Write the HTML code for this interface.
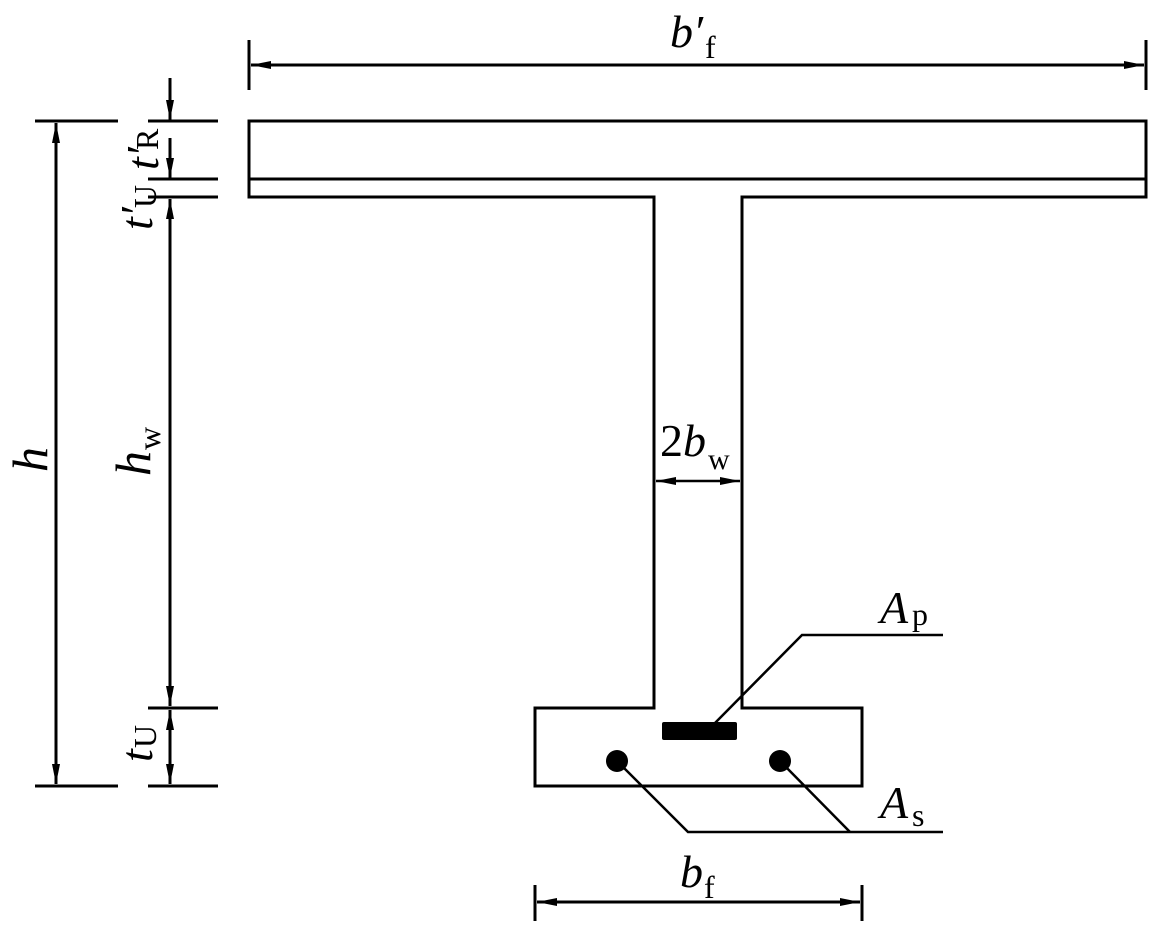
<!DOCTYPE html>
<html><head><style>body{margin:0;background:#fff}svg{display:block}text{font-family:"Liberation Serif","Times New Roman",serif;fill:#000}</style></head>
<body>
<svg width="1154" height="932" viewBox="0 0 1154 932" xmlns="http://www.w3.org/2000/svg">
<defs>
<marker id="a" viewBox="0 0 20 8" refX="20" refY="4" markerWidth="20" markerHeight="8" markerUnits="userSpaceOnUse" orient="auto-start-reverse"><path d="M0,0 L20,4 L0,8 Z" fill="#000"/></marker>
</defs>
<g stroke="#000" stroke-width="3" fill="none">
<path d="M249,121 H1146 V197 H742 V708 H862 V786 H535 V708 H654 V197 H249 Z"/>
<line x1="249" y1="179" x2="1146" y2="179"/>
<line x1="249" y1="40" x2="249" y2="90"/>
<line x1="1146" y1="40" x2="1146" y2="90"/>
<line x1="251" y1="65" x2="1144" y2="65" marker-start="url(#a)" marker-end="url(#a)"/>
<line x1="35" y1="121" x2="118" y2="121"/>
<line x1="35" y1="786" x2="118" y2="786"/>
<line x1="56" y1="123" x2="56" y2="784" marker-start="url(#a)" marker-end="url(#a)"/>
<line x1="148" y1="121" x2="218" y2="121"/>
<line x1="148" y1="179" x2="218" y2="179"/>
<line x1="148" y1="197" x2="218" y2="197"/>
<line x1="148" y1="708" x2="218" y2="708"/>
<line x1="148" y1="786" x2="218" y2="786"/>
<line x1="170" y1="78" x2="170" y2="120" marker-end="url(#a)"/>
<line x1="170" y1="138" x2="170" y2="178" marker-end="url(#a)"/>
<line x1="170" y1="199" x2="170" y2="706" marker-start="url(#a)" marker-end="url(#a)"/>
<line x1="170" y1="710" x2="170" y2="784" marker-start="url(#a)" marker-end="url(#a)"/>
<line x1="656" y1="481" x2="740" y2="481" marker-start="url(#a)" marker-end="url(#a)" stroke-width="2.5"/>
<line x1="535" y1="885" x2="535" y2="921"/>
<line x1="862" y1="885" x2="862" y2="921"/>
<line x1="537" y1="902" x2="860" y2="902" marker-start="url(#a)" marker-end="url(#a)"/>
<polyline points="715,723 802,635 943,635" stroke-width="2.5"/>
<polyline points="617,761 688,832 943,832" stroke-width="2.5"/>
<line x1="780" y1="761" x2="850" y2="832" stroke-width="2.5"/>
</g>
<rect x="662" y="722" width="75" height="18" rx="2" fill="#000"/>
<circle cx="617" cy="761" r="11" fill="#000"/>
<circle cx="780" cy="761" r="11" fill="#000"/>
<text x="670" y="47" font-size="46" font-style="italic">b′</text><text x="705" y="58" font-size="32">f</text>
<text x="660" y="456" font-size="46">2<tspan font-style="italic">b</tspan></text><text x="708" y="469" font-size="30">w</text>
<text x="880" y="623" font-size="46" font-style="italic">A</text><text x="912" y="625" font-size="32">p</text>
<text x="880" y="818" font-size="46" font-style="italic">A</text><text x="912" y="826" font-size="32">s</text>
<text x="680" y="887" font-size="46" font-style="italic">b</text><text x="704" y="898" font-size="32">f</text>
<g transform="translate(47,472) rotate(-90)"><text font-size="50" font-style="italic">h</text></g>
<g transform="translate(150,476) rotate(-90)"><text font-size="50" font-style="italic">h</text><text x="26" y="10" font-size="32">w</text></g>
<g transform="translate(152,762) rotate(-90)"><text font-size="46" font-style="italic">t</text><text x="14" y="4" font-size="32">U</text></g>
<g transform="translate(152,230) rotate(-90)"><text font-size="46" font-style="italic">t′</text><text x="22" y="4" font-size="32">U</text></g>
<g transform="translate(158,170) rotate(-90)"><text font-size="46" font-style="italic">t′</text><text x="20" y="0" font-size="32">R</text></g>
</svg>
</body></html>
